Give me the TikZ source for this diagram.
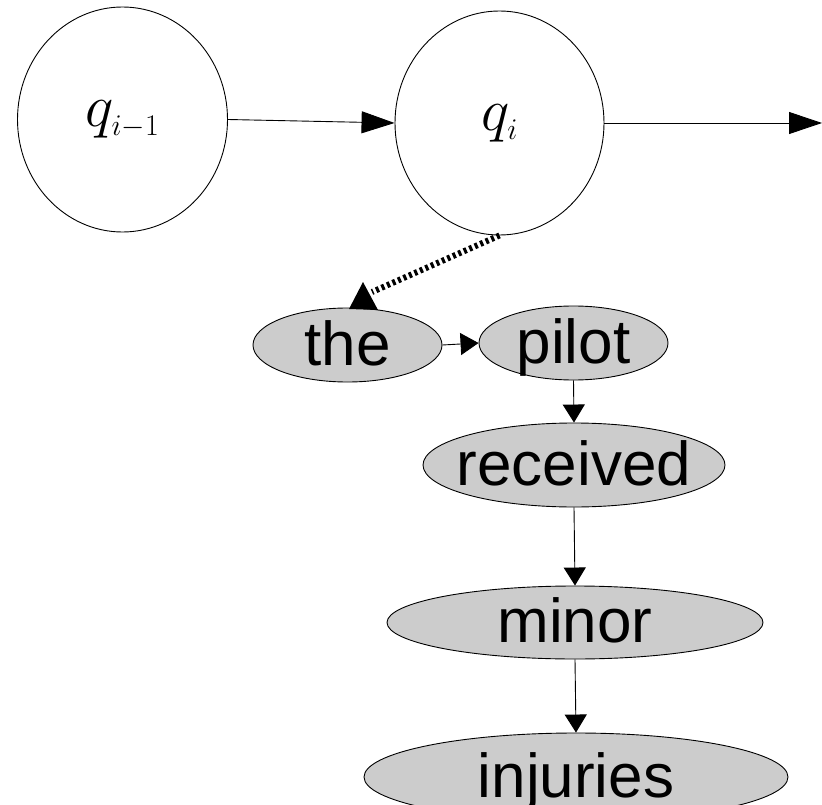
\documentclass[tikz,border=0pt]{standalone}
\usepackage{fix-cm}
\usepackage[no-math]{fontspec}
\setmainfont{Liberation Sans}
\usetikzlibrary{shapes.geometric, arrows.meta}
\definecolor{nodegray}{rgb}{0.8, 0.8, 0.8}
\DeclareMathSizes{60}{60}{30}{24}

\begin{document}
\begin{tikzpicture}[x=1pt,y=-1pt]
			\tikzstyle{state} = [ellipse,fill=white,draw=black,line width=0.9pt,inner sep=0pt,font=\fontsize{60}{70}\selectfont]
			\tikzstyle{word} = [ellipse,fill=nodegray,draw=black,line width=0.9pt,inner xsep=-20pt,inner ysep=0pt,text height=44pt,text depth=4pt,font=\fontsize{62}{70}\selectfont]
			\tikzstyle{edge} = [-{Triangle[length=33pt,width=22pt]},line width=0.9pt]
			\tikzstyle{edge2} = [-{Triangle[length=18pt,width=22pt]},line width=0.9pt]
			\tikzstyle{edge3} = [line width=6pt,dash pattern=on 3pt off 3pt]
			\useasboundingbox (0,0) rectangle (822,805);
			\node[state,minimum width=210pt,minimum height=225pt] (q1) at (122.5,119.5) {$q_{i-1}$};
			\node[state,minimum width=209pt,minimum height=224pt] (q2) at (499.5,123) {$q_{i}$};
			\coordinate (q3) at (822,123);
			\node[word,minimum width=189pt,minimum height=74pt] (w1) at (347.5,345) {the};
			\node[word,minimum width=189pt,minimum height=74pt] (w2) at (573.5,343) {pilot};
			\node[word,minimum width=302pt,minimum height=84pt] (w3) at (574,465) {received};
			\node[word,minimum width=376pt,minimum height=73pt] (w4) at (575,622.5) {minor};
			\node[word,minimum width=424pt,minimum height=88pt] (w5) at (576,777) {injuries};
			\coordinate (d1) at (372,292);
			\coordinate (tip) at (363,282);
			\draw[edge] (q1.east)--(q2.west);
			\draw[edge] (q2.east)--(q3);
			\draw[edge3] (q2.south)--(d1);
			\fill (tip) -- ++(-14,27) -- ++(29,1) -- cycle;
			\draw[edge2] (w1.east)--(w2.west);
			\draw[edge2] (w2.south)--(w3.north);
			\draw[edge2] (w3.south)--(w4.north);
			\draw[edge2] (w4.south)--(w5.north);
\end{tikzpicture}
\end{document}
